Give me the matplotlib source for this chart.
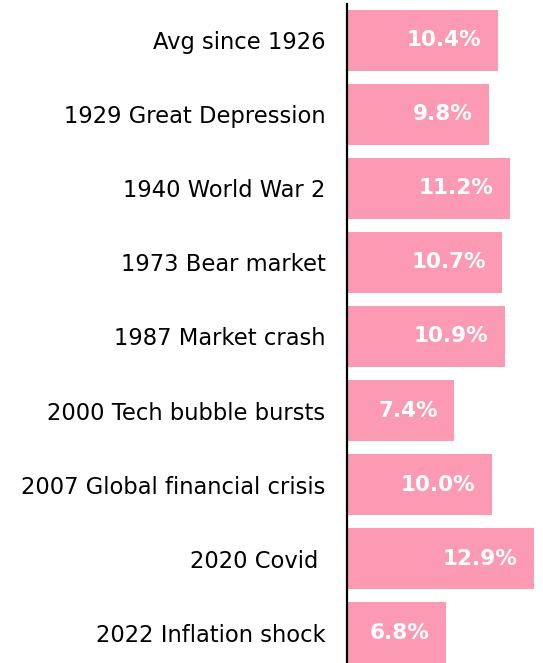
import matplotlib
matplotlib.use("Agg")
import matplotlib.pyplot as plt

# values
categories = [
    "Avg since 1926",
    "1929 Great Depression",
    "1940 World War 2",
    "1973 Bear market",
    "1987 Market crash",
    "2000 Tech bubble bursts",
    "2007 Global financial crisis",
    "2020 Covid ",
    "2022 Inflation shock",
]
returns = [10.4, 9.8, 11.2, 10.7, 10.9, 7.4, 10.0, 12.9, 6.8]

bar_color = "#FC9AB4"
plt.rcParams["font.family"] = ["DejaVu Sans"]

fig = plt.figure(figsize=(5.43, 6.63), dpi=100)
# axes from the black line (x=347px) to the right edge, top at 4px
ax = fig.add_axes([347 / 543, 0, 196 / 543, 659 / 663])

ypos = list(range(len(categories)))
ax.barh(ypos, returns, height=0.824, color=bar_color)

for y, v in zip(ypos, returns):
    ax.annotate(f"{v:.1f}%", xy=(v, y), xytext=(-12, 0), textcoords="offset points",
                ha="right", va="center", color="white", fontsize=15.5, fontweight="bold")

ax.set_xlim(0, 13.5)
ax.set_ylim(8.412, -0.493)
ax.set_yticks(ypos)
ax.set_yticklabels(categories, fontsize=16.3)
ax.tick_params(axis="y", length=0, pad=15.5)
ax.set_xticks([])
for side in ["top", "right", "bottom"]:
    ax.spines[side].set_visible(False)
ax.spines["left"].set_linewidth(1.6)
ax.spines["left"].set_color("black")

fig.savefig("out.png", dpi=100)
